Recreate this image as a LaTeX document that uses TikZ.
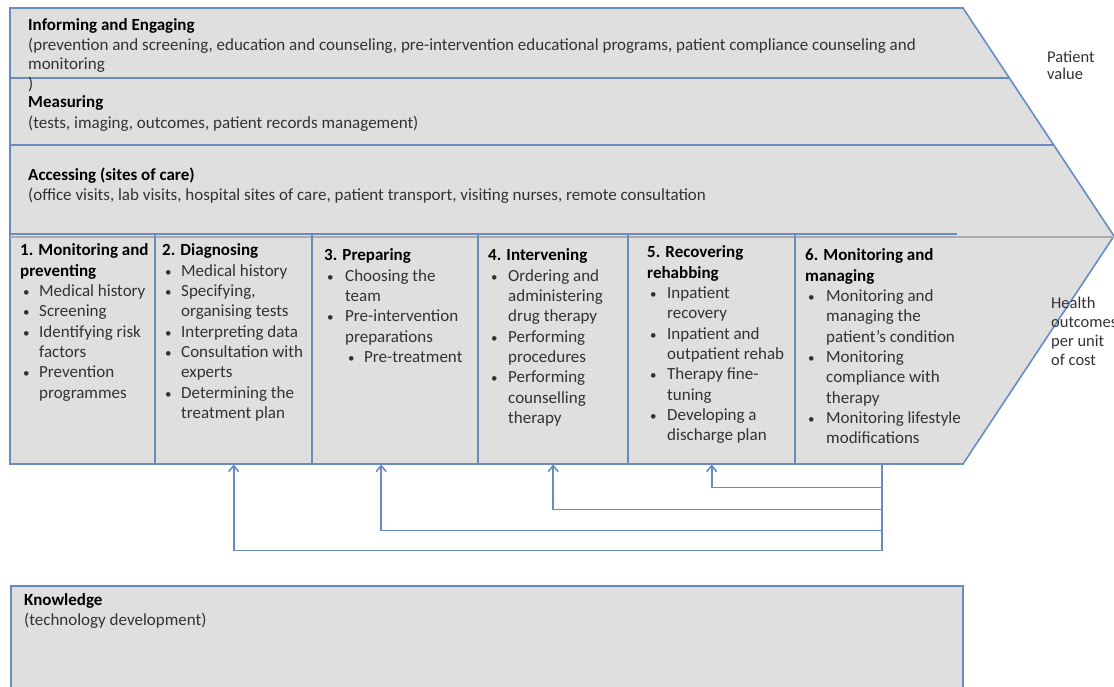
\documentclass[tikz,border=0pt]{standalone}
\usepackage{fontspec}
\setmainfont{Carlito}
\usetikzlibrary{arrows.meta,calc}
\definecolor{lb}{RGB}{104,140,190}
\definecolor{fillg}{RGB}{223,223,223}
\definecolor{txtc}{RGB}{50,50,50}
\definecolor{gline}{RGB}{170,170,175}
\begin{document}
\begin{tikzpicture}[x=1pt,y=-1pt,
  edge/.style={draw=lb, line width=1.6pt},
  divider/.style={draw=lb, line width=2.2pt},
  arr/.style={draw=lb, line width=1.6pt, -{Straight Barb[length=6pt,width=10pt]}},
  txt/.style={inner sep=0pt, anchor=base west, text=txtc, font=\fontsize{17}{19.5}\selectfont},
  coltxt/.style={inner sep=0pt, anchor=base west, text=txtc, font=\fontsize{17}{20.3}\selectfont},
  col/.style={inner sep=0pt, anchor=north west, minimum height=230pt}
]
\useasboundingbox (0,0) rectangle (1114,687);

% chevron
\draw[edge, fill=fillg] (10,8) -- (963,8) -- (1114,236) -- (963,464) -- (10,464) -- cycle;
\draw[edge] (10,78) -- (1009,78);
\draw[edge] (10,145) -- (1054,145);
\draw[draw=gline, line width=1.2pt] (10,237) -- (1114,237);
\draw[divider] (10,234) -- (957,234);

% column nodes
\node[col, minimum width=145pt] (p1) at (10,234) {};
\node[col, minimum width=157pt] (p2) at (155,234) {};
\node[col, minimum width=166pt] (p3) at (312,234) {};
\node[col, minimum width=150pt] (p4) at (478,234) {};
\node[col, minimum width=167pt] (p5) at (628,234) {};
\node[col, minimum width=174pt] (p6) at (795,234) {};
\foreach \x in {155,312,478,628,795} \draw[divider] (\x,234) -- (\x,464);

% band texts
\node[txt] (ie1) at (28,31) {\textbf{\color{black}Informing and Engaging}};
\node[txt] (ie2) at (28,50.5) {(prevention and screening, education and counseling, pre-intervention educational programs, patient compliance counseling and};
\node[txt] (ie3) at (28,70) {monitoring};
\node[txt] (ie4) at (28,90) {)};
\node[txt] (m1) at (28,108) {\textbf{\color{black}Measuring}};
\node[txt] (m2) at (28,128.5) {(tests, imaging, outcomes, patient records management)};
\node[txt] (a1) at (28,181) {\textbf{\color{black}Accessing (sites of care)}};
\node[txt] (a2) at (28,200.5) {(office visits, lab visits, hospital sites of care, patient transport, visiting nurses, remote consultation};

% column texts
\newcommand{\bh}[1]{\multicolumn{2}{@{}l@{}}{\textbf{\color{black}#1}}}
\newcommand{\bu}{\hspace{3pt}{\fontsize{13}{13}\selectfont\textbullet}}
\node[coltxt] (t1) at (20,256) {\begin{tabular}[t]{@{}p{19pt}@{}l@{}}
\bh{1. Monitoring and}\\ \bh{preventing}\\
\bu & Medical history\\ \bu & Screening\\ \bu & Identifying risk\\ & factors\\ \bu & Prevention\\ & programmes
\end{tabular}};
\node[coltxt] (t2) at (162,256) {\begin{tabular}[t]{@{}p{19pt}@{}l@{}}
\bh{2. Diagnosing}\\
\bu & Medical history\\ \bu & Specifying,\\ & organising tests\\ \bu & Interpreting data\\ \bu & Consultation with\\ & experts\\ \bu & Determining the\\ & treatment plan
\end{tabular}};
\node[coltxt] (t3) at (324,261) {\begin{tabular}[t]{@{}p{21pt}@{}l@{}}
\bh{3. Preparing}\\
\bu & Choosing the\\ & team\\ \bu & Pre-intervention\\ & preparations\\ & \hspace{3pt}\makebox[16pt][l]{\fontsize{13}{13}\selectfont\textbullet}Pre-treatment
\end{tabular}};
\node[coltxt] (t4) at (488,261) {\begin{tabular}[t]{@{}p{20pt}@{}l@{}}
\bh{4. Intervening}\\
\bu & Ordering and\\ & administering\\ & drug therapy\\ \bu & Performing\\ & procedures\\ \bu & Performing\\ & counselling\\ & therapy
\end{tabular}};
\node[coltxt] (t5) at (647,258) {\begin{tabular}[t]{@{}p{20pt}@{}l@{}}
\bh{5. Recovering}\\ \bh{rehabbing}\\
\bu & Inpatient\\ & recovery\\ \bu & Inpatient and\\ & outpatient rehab\\ \bu & Therapy fine-\\ & tuning\\ \bu & Developing a\\ & discharge plan
\end{tabular}};
\begin{scope}
\clip (795,240) rectangle (964,464);
\node[coltxt] (t6) at (805,261) {\begin{tabular}[t]{@{}p{21pt}@{}l@{}}
\bh{6. Monitoring and}\\ \bh{managing}\\
\bu & Monitoring and\\ & managing the\\ & patient’s condition\\ \bu & Monitoring\\ & compliance with\\ & therapy\\ \bu & Monitoring lifestyle\\ & modifications
\end{tabular}};
\end{scope}

% side labels
\node[txt, align=left, anchor=base west, font=\fontsize{16.5}{17.5}\selectfont] (pv) at (1047,80) {Patient\\value};
\node[txt, align=left, anchor=base west, font=\fontsize{16.5}{19}\selectfont] (ho) at (1051,365) {Health\\outcomes\\per unit\\of cost};

% feedback arrows
\draw[arr] (p6.south) -- ++(0,23) -| (p5.south);
\draw[arr] (p6.south) -- ++(0,45) -| (p4.south);
\draw[arr] (p6.south) -- ++(0,66) -| ([xshift=-14pt]p3.south);
\draw[arr] (p6.south) -- ++(0,86) -| (p2.south);

% knowledge
\node[draw=lb, line width=1.6pt, fill=fillg, anchor=north west, minimum width=952pt, minimum height=130pt, inner sep=0pt] (kn) at (10,585) {};
\node[txt] (k1) at (24,605) {\textbf{\color{black}Knowledge}};
\node[txt] (k2) at (24,625) {(technology development)};
\end{tikzpicture}
\end{document}
